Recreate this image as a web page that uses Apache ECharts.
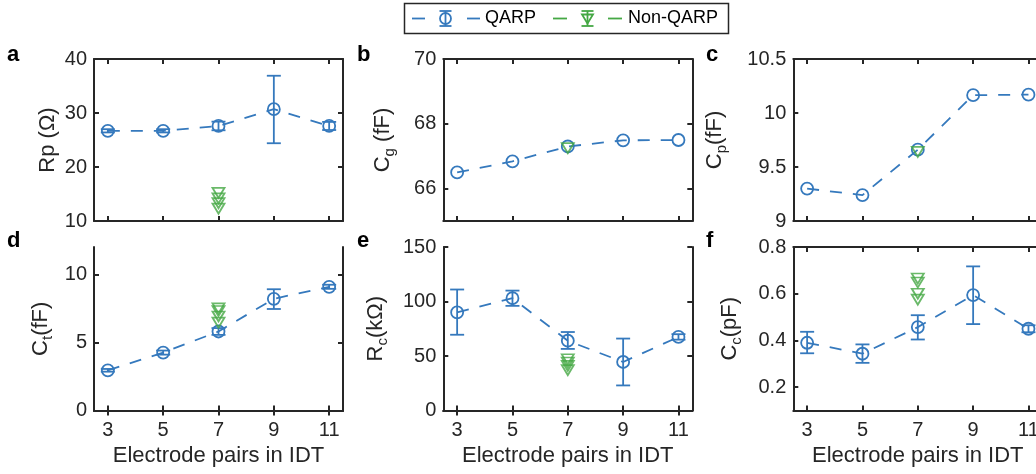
<!DOCTYPE html>
<html><head><meta charset="utf-8">
<script src="https://cdn.jsdelivr.net/npm/echarts@6/dist/echarts.min.js"></script>
<style>html,body{margin:0;padding:0;background:#fff}#c{width:1036px;height:474px}</style>
</head><body><div id="c"></div>
<script>
// ---- data ----
const xPairs = [3, 5, 7, 9, 11];
const xTicks = [3, 5, 7, 9, 11];
const nonX = 7;
// a: Rp (Ohm)
const rpMean = [26.7, 26.7, 27.6, 30.7, 27.6];
const rpLow  = [26.4, 26.4, 26.8, 24.4, 26.85];
const rpHigh = [27.0, 27.0, 28.4, 36.9, 28.35];
const rpNon  = [15.2, 14.2, 13.3, 12.3];
const rpTicks = [10, 20, 30, 40];
// b: Cg (fF)
const cgMean = [66.5, 66.84, 67.3, 67.49, 67.5];
const cgNon  = [67.25];
const cgTicks = [66, 68, 70];
// c: Cp (fF)
const cpMean = [9.3, 9.24, 9.66, 10.165, 10.17];
const cpNon  = [9.64];
const cpTicks = [9, 9.5, 10, 10.5];
// d: Ct (fF)
const ctMean = [2.95, 4.25, 5.8, 8.2, 9.08];
const ctLow  = [2.85, 4.1, 5.55, 7.45, 8.93];
const ctHigh = [3.05, 4.4, 6.05, 8.9, 9.23];
const ctNon  = [7.5, 7.3, 6.9, 6.45];
const ctTicks = [0, 5, 10];
// e: Rc (kOhm)
const rcMean = [90, 103, 64, 44.5, 67.5];
const rcLow  = [69.5, 96, 56.5, 23, 65];
const rcHigh = [111, 110, 72, 66, 70];
const rcNon  = [47, 44, 41, 37];
const rcTicks = [0, 50, 100, 150];
// f: Cc (pF)
const ccMean = [0.39, 0.343, 0.457, 0.594, 0.45];
const ccLow  = [0.345, 0.304, 0.404, 0.47, 0.435];
const ccHigh = [0.437, 0.383, 0.508, 0.717, 0.465];
const ccNon  = [0.665, 0.648, 0.6, 0.575];
const ccTicks = [0.2, 0.4, 0.6, 0.8];

// ---- style ----
const BLUE = '#3579bd';
const GREEN = '#45a844';
const AX = '#262626';
const FONT = "'Liberation Sans', Arial, Helvetica, sans-serif";
const LW = 1.8;

const panels = [
  {letter:'a', name:'{m|Rp (\u03A9)}', min:10, max:40, ticks:rpTicks, mean:rpMean, low:rpLow, high:rpHigh, non:rpNon, col:0, row:0, gap:35},
  {letter:'b', name:'{m|C}{s|g}{m| (fF)}', min:65, max:70, ticks:cgTicks, mean:cgMean, low:null, high:null, non:cgNon, col:1, row:0, gap:46},
  {letter:'c', name:'{m|C}{s|p}{m|(fF)}', min:9, max:10.5, ticks:cpTicks, mean:cpMean, low:null, high:null, non:cpNon, col:2, row:0, gap:64},
  {letter:'d', name:'{m|C}{s|t}{m|(fF)}', min:0, max:12, ticks:ctTicks, mean:ctMean, low:ctLow, high:ctHigh, non:ctNon, col:0, row:1, gap:39},
  {letter:'e', name:'{m|R}{s|c}{m|(k\u03A9)}', min:0, max:150, ticks:rcTicks, mean:rcMean, low:rcLow, high:rcHigh, non:rcNon, col:1, row:1, gap:53},
  {letter:'f', name:'{m|C}{s|c}{m|(pF)}', min:0.1, max:0.8, ticks:ccTicks, mean:ccMean, low:ccLow, high:ccHigh, non:ccNon, col:2, row:1, gap:49}
];

const colLeft = [94, 443.3, 793.3];
const gridW = 249;
const rowTop = [59, 247];
const rowH = [162, 163.5];
const letterX = [7, 357, 706];
const letterY = [55, 241];

const grids = [], xAxes = [], yAxes = [], series = [], graphics = [];

const lineAx = {show:true, lineStyle:{color:AX, width:2}};
function tickIn(vals){ return {show:true, inside:true, length:5, lineStyle:{color:AX, width:2}, customValues:vals}; }

function errRender(params, api) {
  const x = api.value(0), lo = api.value(1), hi = api.value(2);
  const pHi = api.coord([x, hi]), pLo = api.coord([x, lo]);
  const hw = 7;
  const style = {stroke: BLUE, lineWidth: LW, fill: null};
  return {type:'group', children:[
    {type:'line', shape:{x1:pHi[0], y1:pHi[1], x2:pLo[0], y2:pLo[1]}, style:style},
    {type:'line', shape:{x1:pHi[0]-hw, y1:pHi[1], x2:pHi[0]+hw, y2:pHi[1]}, style:style},
    {type:'line', shape:{x1:pLo[0]-hw, y1:pLo[1], x2:pLo[0]+hw, y2:pLo[1]}, style:style}
  ]};
}

panels.forEach(function(p, g){
  grids.push({left:colLeft[p.col], top:rowTop[p.row], width:gridW, height:rowH[p.row], outerBoundsMode:'none', containLabel:false});
  const bottomRow = p.row === 1;
  xAxes.push({
    type:'value', gridIndex:g, position:'bottom', min:2.5, max:11.5,
    axisLine:lineAx, axisTick:tickIn(xTicks), splitLine:{show:false},
    axisLabel:{show:bottomRow, customValues:xTicks, color:AX, fontSize:20, fontFamily:FONT, margin:10},
    name: bottomRow ? 'Electrode pairs in IDT' : '', nameLocation:'middle', nameGap:34, nameMoveOverlap:false,
    nameTextStyle:{color:AX, fontSize:22, fontFamily:FONT}
  });
  xAxes.push({
    type:'value', gridIndex:g, position:'top', min:2.5, max:11.5,
    axisLine:lineAx, axisTick:tickIn(xTicks), splitLine:{show:false}, axisLabel:{show:false}
  });
  yAxes.push({
    type:'value', gridIndex:g, position:'left', min:p.min, max:p.max,
    axisLine:lineAx, axisTick:tickIn(p.ticks), splitLine:{show:false},
    axisLabel:{customValues:p.ticks, color:AX, fontSize:20, fontFamily:FONT, margin:7},
    name:p.name, nameLocation:'middle', nameGap:p.gap, nameRotate:90, nameMoveOverlap:false,
    nameTextStyle:{rich:{
      m:{fontSize:22, fontFamily:FONT, color:AX},
      s:{fontSize:15, fontFamily:FONT, color:AX, padding:[14,0,0,0]}
    }}
  });
  yAxes.push({
    type:'value', gridIndex:g, position:'right', min:p.min, max:p.max,
    axisLine:lineAx, axisTick:tickIn(p.ticks), splitLine:{show:false}, axisLabel:{show:false}
  });
  const xi = 2*g, yi = 2*g;
  if (p.low) {
    series.push({
      type:'custom', xAxisIndex:xi, yAxisIndex:yi, renderItem:errRender,
      encode:{x:0, y:[1,2]}, z:2, silent:true,
      data:xPairs.map(function(x,i){ return [x, p.low[i], p.high[i]]; })
    });
  }
  series.push({
    type:'line', xAxisIndex:xi, yAxisIndex:yi, z:3, silent:true,
    data:xPairs.map(function(x,i){ return [x, p.mean[i]]; }),
    symbol:'circle', symbolSize:12, showSymbol:true,
    itemStyle:{color:'rgba(0,0,0,0)', borderColor:BLUE, borderWidth:LW},
    lineStyle:{color:BLUE, width:LW, type:[12,11]},
    emphasis:{disabled:true}
  });
  series.push({
    type:'scatter', xAxisIndex:xi, yAxisIndex:yi, z:4, silent:true,
    data:p.non.map(function(v){ return [nonX, v]; }),
    symbol:'triangle', symbolRotate:180, symbolSize:[12,10],
    itemStyle:{color:'rgba(0,0,0,0)', borderColor:GREEN, borderWidth:LW},
    emphasis:{disabled:true}
  });
  graphics.push({type:'text', x:letterX[p.col], y:letterY[p.row],
    style:{text:p.letter, font:'bold 22px ' + FONT, fill:'#000', verticalAlign:'middle', align:'left'}});
});

// legend (drawn as graphics)
const LY = 18.5;
function seg(x1, x2, c){ return {type:'line', shape:{x1:x1, y1:LY, x2:x2, y2:LY}, style:{stroke:c, lineWidth:LW}}; }
function ebar(cx, c){
  return [
    {type:'line', shape:{x1:cx, y1:LY-7.5, x2:cx, y2:LY+7.5}, style:{stroke:c, lineWidth:LW}},
    {type:'line', shape:{x1:cx-6, y1:LY-7.5, x2:cx+6, y2:LY-7.5}, style:{stroke:c, lineWidth:LW}},
    {type:'line', shape:{x1:cx-6, y1:LY+7.5, x2:cx+6, y2:LY+7.5}, style:{stroke:c, lineWidth:LW}}
  ];
}
graphics.push({type:'rect', shape:{x:404.5, y:3.5, width:324, height:30}, style:{fill:'#fff', stroke:AX, lineWidth:1.5}});
graphics.push(seg(412, 425, BLUE));
graphics.push({type:'circle', shape:{cx:445.5, cy:LY, r:5.5}, style:{fill:null, stroke:BLUE, lineWidth:LW}});
ebar(445.5, BLUE).forEach(function(e){ graphics.push(e); });
graphics.push(seg(467, 480, BLUE));
graphics.push({type:'text', x:485, y:LY, style:{text:'QARP', font:'18px ' + FONT, fill:'#000', verticalAlign:'middle'}});
graphics.push(seg(553, 567, GREEN));
graphics.push({type:'polygon', shape:{points:[[582,14.5],[593,14.5],[587.5,23.5]]}, style:{fill:null, stroke:GREEN, lineWidth:LW}});
ebar(587.5, GREEN).forEach(function(e){ graphics.push(e); });
graphics.push(seg(608, 622, GREEN));
graphics.push({type:'text', x:628, y:LY, style:{text:'Non-QARP', font:'18px ' + FONT, fill:'#000', verticalAlign:'middle'}});

const chart = echarts.init(document.getElementById('c'), null, {renderer:'canvas'});
chart.setOption({
  animation:false,
  backgroundColor:'#fff',
  grid:grids, xAxis:xAxes, yAxis:yAxes, series:series,
  graphic:graphics
});
</script>
</body></html>
